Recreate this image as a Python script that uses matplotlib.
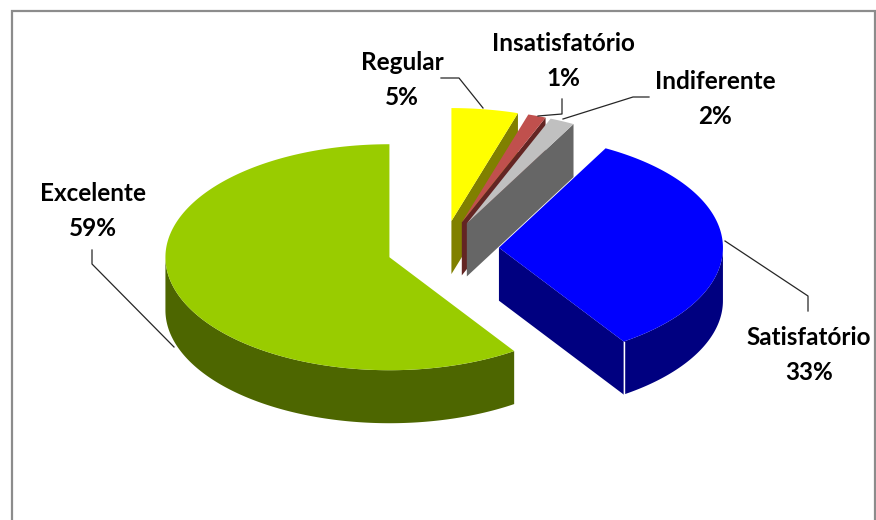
import numpy as np
import matplotlib
matplotlib.use("Agg")
import matplotlib.pyplot as plt
from matplotlib.patches import Polygon

# slices in clockwise order, starting from 12 o'clock
categories = ["Regular", "Insatisfatório", "Indiferente", "Satisfatório", "Excelente"]
values = [4.8, 1.3, 1.8, 32.7, 59.4]

top_colors = ["#FFFF00", "#C0504D", "#C0C0C0", "#0000FF", "#99CC00"]
side_colors = ["#808000", "#632523", "#666666", "#000080", "#4D6600"]

# pie layout, in pixels
center_x, center_y = 443, 249
radius_x, radius_y = 224, 113
depth = 53
explode = 0.25

# centre of each label and the leader line that goes with it
label_pos = [(402, 80), (563, 61), (715, 99), (809, 355), (93, 211)]
leaders = [
    [(441, 78), (459, 78), (483, 108)],
    [(562, 99), (562, 114), (538, 116)],
    [(649, 97), (633, 97), (563, 119)],
    [(808, 311), (808, 296), (725, 241)],
    [(92, 250), (92, 264), (174, 347)],
]


def ellipse_point(x0, y0, angle):
    # angle in degrees, clockwise from the top
    a = np.radians(angle)
    return x0 + radius_x * np.sin(a), y0 - radius_y * np.cos(a)


def arc_points(x0, y0, start, end):
    angles = np.linspace(start, end, 200)
    xs, ys = ellipse_point(x0, y0, angles)
    return list(zip(xs, ys))


fig = plt.figure(figsize=(8.76, 5.2), dpi=100)
ax = fig.add_axes([0, 0, 1, 1])
ax.set_xlim(0, 876)
ax.set_ylim(520, 0)
ax.axis("off")

# chart frame, open at the bottom of the picture
ax.plot([12, 12, 875, 875], [525, 11, 11, 525], color="#8C8C8C", lw=1.6, solid_joinstyle="miter")

total = sum(values)
start = 0
for i in range(len(values)):
    sweep = values[i] / total * 360
    end = start + sweep
    mid = np.radians(start + sweep / 2)
    x0 = center_x + explode * radius_x * np.sin(mid)
    y0 = center_y - explode * radius_y * np.cos(mid)

    # side facing the viewer on the cut
    if 0 < end < 180:
        ox, oy = ellipse_point(x0, y0, end)
        ax.add_patch(Polygon([(x0, y0), (ox, oy), (ox, oy + depth), (x0, y0 + depth)],
                             closed=True, fc=side_colors[i], ec="none"))

    # round outer wall, only the front half shows
    a0 = max(start, 90)
    a1 = min(end, 270)
    if a0 < a1:
        upper = arc_points(x0, y0, a0, a1)
        lower = [(x, y + depth) for x, y in upper][::-1]
        ax.add_patch(Polygon(upper + lower, closed=True, fc=side_colors[i], ec="none"))
        # white seam where the cut meets the outer wall
        if 0 < end < 180:
            ax.plot([ox, ox], [oy, oy + depth], color="white", lw=1)

    ax.add_patch(Polygon([(x0, y0)] + arc_points(x0, y0, start, end), closed=True,
                         fc=top_colors[i], ec="none"))
    start = end

for i in range(len(categories)):
    xs = [p[0] for p in leaders[i]]
    ys = [p[1] for p in leaders[i]]
    ax.plot(xs, ys, color="#262626", lw=0.9)
    ax.text(label_pos[i][0], label_pos[i][1], "%s\n%.0f%%" % (categories[i], values[i]),
            family="Lato", weight="bold", fontsize=17.5, color="black",
            ha="center", va="center", linespacing=1.6)

plt.savefig("out.png", dpi=100)
